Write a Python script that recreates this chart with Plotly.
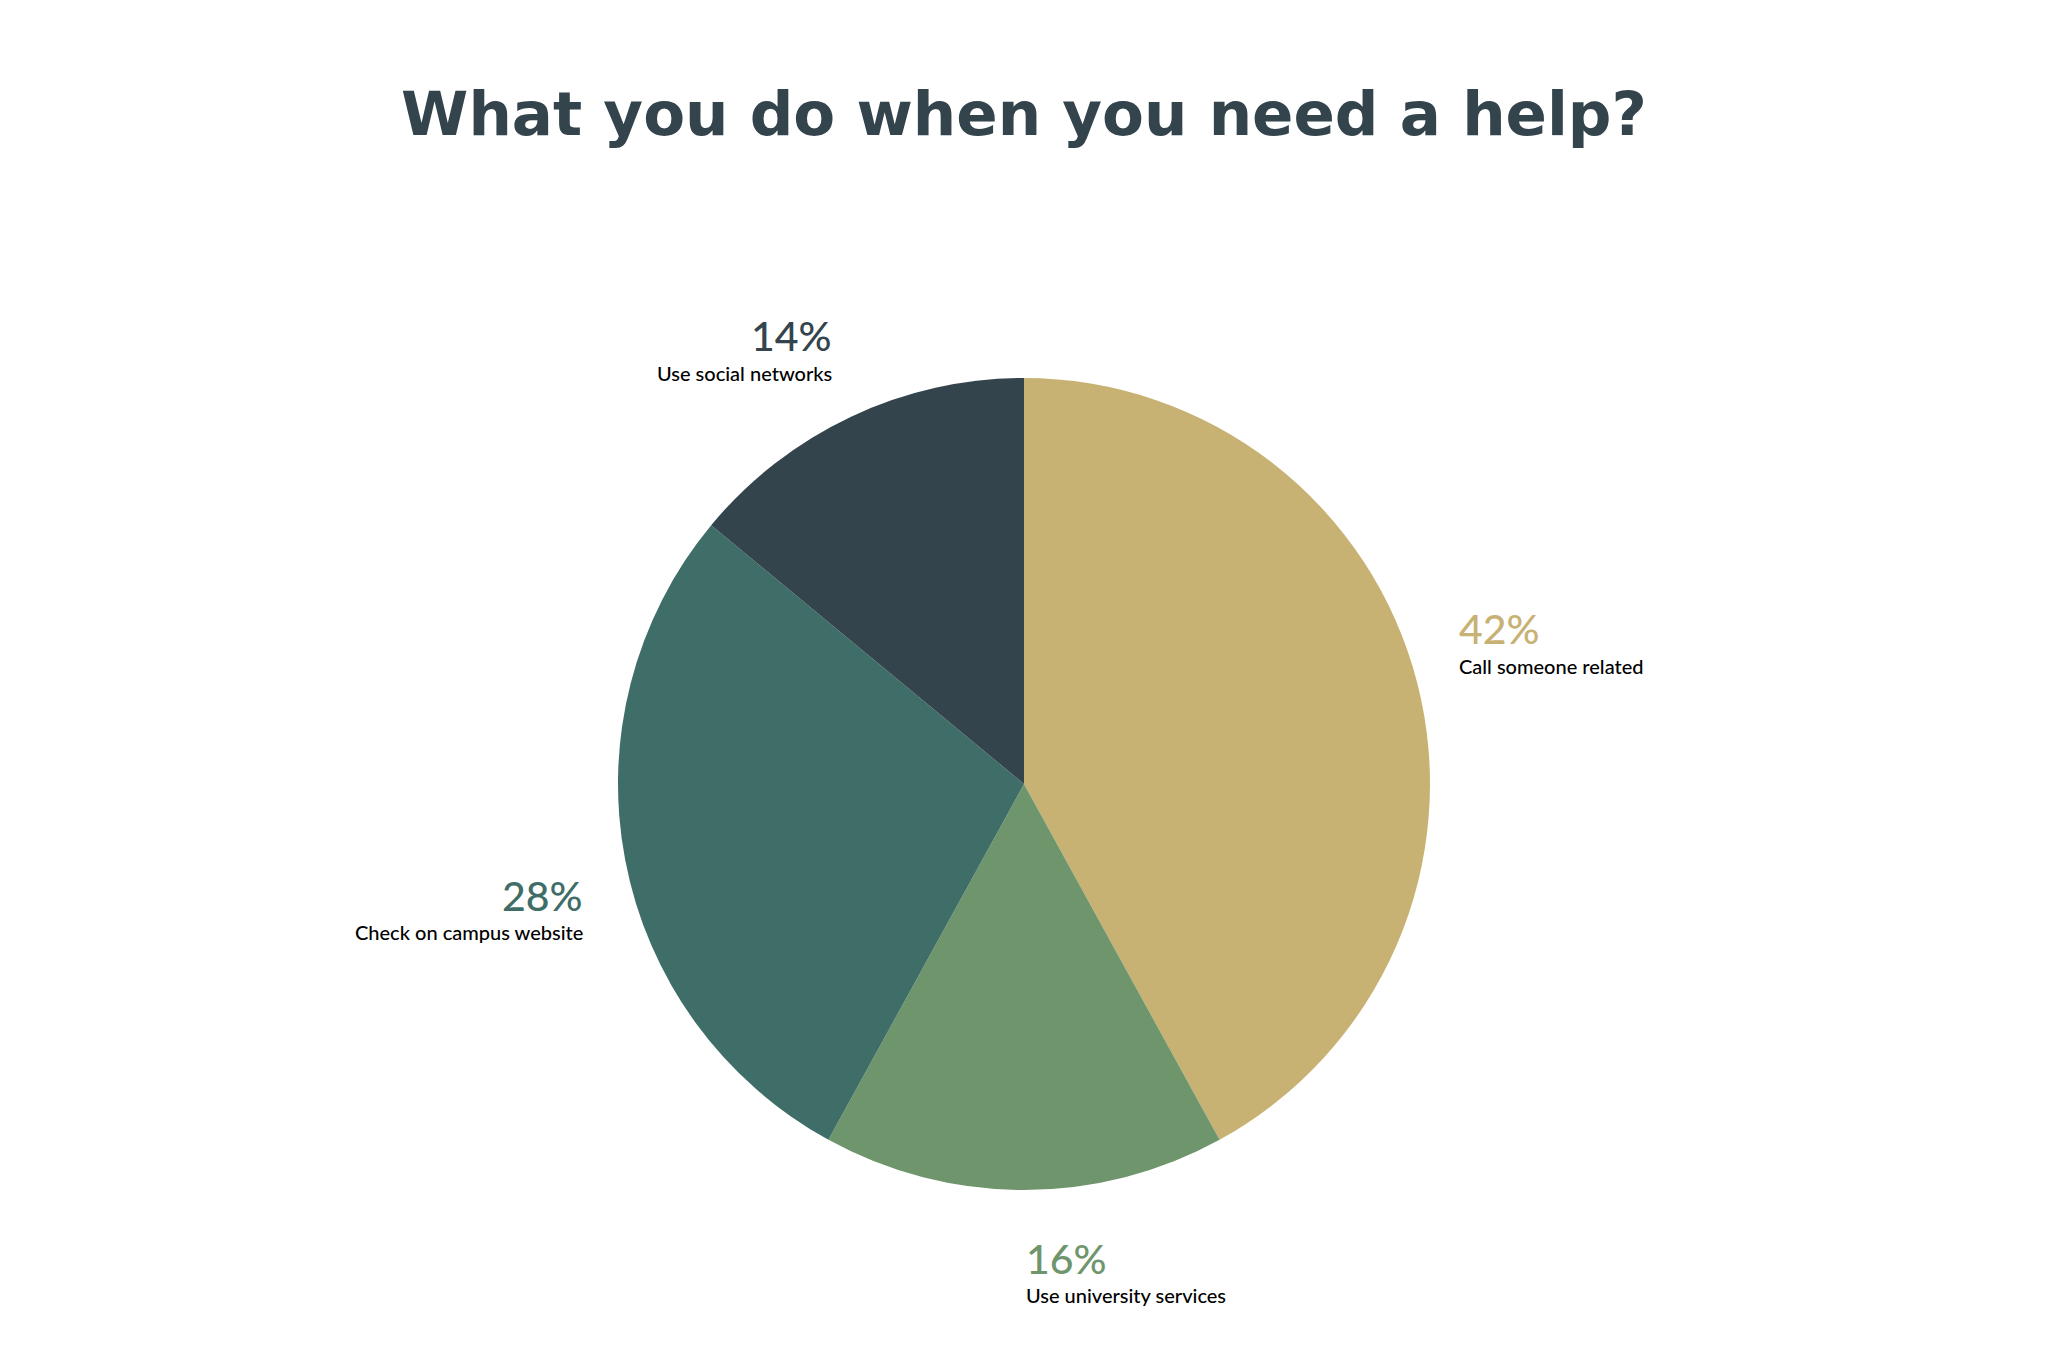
import math
import plotly.graph_objects as go

# ---- data ----
categories = ["Call someone related", "Use university services",
              "Check on campus website", "Use social networks"]
values = [42, 16, 28, 14]
colors = ["#C7B173", "#6E956B", "#3F6D67", "#33444C"]
title_text = "What you do when you need a help?"

# ---- layout constants ----
W, H = 2048, 1364
CX, CY, R = 1024, 784, 406
FONT = "Lato"

fig = go.Figure(go.Pie(
    labels=categories, values=values, sort=False,
    direction="clockwise", rotation=0,
    marker=dict(colors=colors, line=dict(width=0)),
    textinfo="none", hoverinfo="label+percent",
    domain=dict(x=[0, 1], y=[(H - CY - R) / H, (H - CY + R) / H]),
    showlegend=False,
))

total = sum(values)
annotations = []
cum = 0
for cat, v, col in zip(categories, values, colors):
    mid = math.radians(90 - (cum + v / 2) / total * 360)
    cum += v
    c, s = math.cos(mid), math.sin(mid)
    px = CX + 1.1 * R * c
    py = CY - 1.1 * R * s
    xanchor = "left" if c >= -1e-9 else "right"
    if s > 0:
        off_pct, off_lab = -44, -7
    else:
        off_pct, off_lab = 28, 64
    xp = px / W
    annotations.append(dict(
        x=xp, y=1 - (py + off_pct) / H, xref="paper", yref="paper",
        text=f"{round(v / total * 100)}%", showarrow=False,
        xanchor=xanchor, yanchor="middle",
        font=dict(family=FONT, size=41, color=col, weight=500),
    ))
    annotations.append(dict(
        x=xp, y=1 - (py + off_lab) / H, xref="paper", yref="paper",
        text=cat, showarrow=False,
        xanchor=xanchor, yanchor="middle",
        font=dict(family=FONT, size=20, color="#000000", weight=500),
    ))

fig.update_layout(
    width=W, height=H,
    margin=dict(l=0, r=0, t=0, b=0),
    paper_bgcolor="white", plot_bgcolor="white",
    title=dict(text=title_text, x=0.5, xanchor="center",
               y=1 - 114 / H, yanchor="middle",
               font=dict(family="DejaVu Sans", size=61, color="#33444C", weight="bold")),
    annotations=annotations,
)

fig.write_html("out.html")
